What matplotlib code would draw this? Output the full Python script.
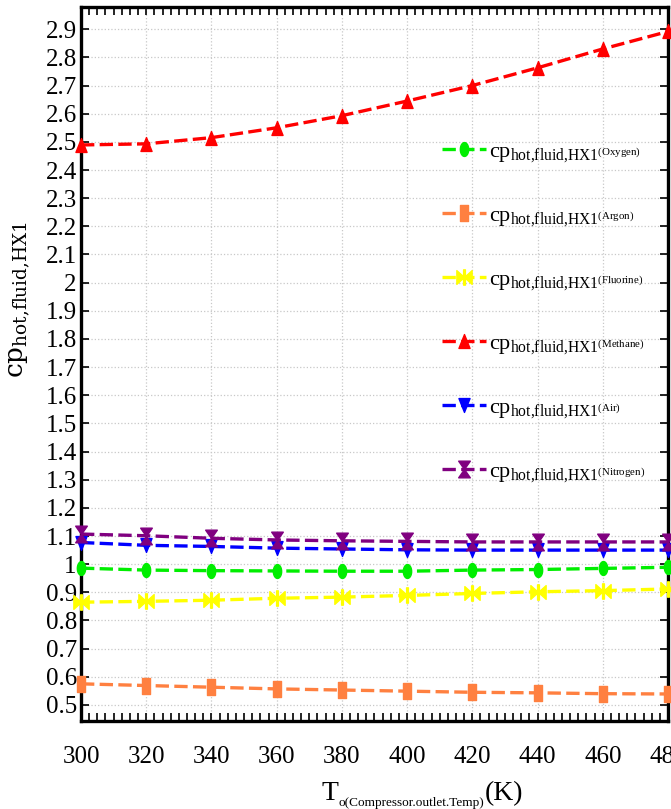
import numpy as np
import matplotlib
matplotlib.use('Agg')
import matplotlib.pyplot as plt
from matplotlib.path import Path
from matplotlib.ticker import MultipleLocator

plt.rcParams['font.family'] = ['Liberation Serif', 'DejaVu Serif']
plt.rcParams['mathtext.fontset'] = 'custom'
plt.rcParams['mathtext.rm'] = 'Liberation Serif'
plt.rcParams['mathtext.it'] = 'Liberation Serif:italic'

# data
T = [300, 320, 340, 360, 380, 400, 420, 440, 460, 480]
oxygen = [0.986, 0.979, 0.977, 0.976, 0.975, 0.975, 0.979, 0.981, 0.985, 0.989]
argon = [0.575, 0.569, 0.563, 0.557, 0.553, 0.549, 0.545, 0.543, 0.540, 0.539]
fluorine = [0.865, 0.868, 0.872, 0.879, 0.883, 0.889, 0.896, 0.902, 0.906, 0.912]
methane = [2.489, 2.493, 2.515, 2.550, 2.593, 2.645, 2.700, 2.763, 2.830, 2.892]
air = [1.077, 1.067, 1.063, 1.057, 1.054, 1.051, 1.050, 1.050, 1.050, 1.050]
nitrogen = [1.107, 1.101, 1.092, 1.086, 1.083, 1.081, 1.079, 1.079, 1.079, 1.079]

gases = ['Oxygen', 'Argon', 'Fluorine', 'Methane', 'Air', 'Nitrogen']
series = [oxygen, argon, fluorine, methane, air, nitrogen]
colors = ['#00ee00', '#ff8040', '#ffff00', '#ff0000', '#0000ff', '#800080']

# tall markers (reference image is stretched vertically)
t = np.linspace(0, 2 * np.pi, 40)
ellipse = Path(np.column_stack([0.6 * np.cos(t), np.sin(t)]))
rect = Path([(-0.5, -1), (0.5, -1), (0.5, 1), (-0.5, 1), (-0.5, -1)],
            [Path.MOVETO, Path.LINETO, Path.LINETO, Path.LINETO, Path.CLOSEPOLY])
bowtie = Path([(-1, -0.9), (-1, 0.9), (0, 0), (-1, -0.9),
               (1, -0.9), (1, 0.9), (0, 0), (1, -0.9),
               (-0.12, -1), (0.12, -1), (0.12, 1), (-0.12, 1), (-0.12, -1)],
              [Path.MOVETO, Path.LINETO, Path.LINETO, Path.CLOSEPOLY] * 2 +
              [Path.MOVETO, Path.LINETO, Path.LINETO, Path.LINETO, Path.CLOSEPOLY])
up = Path([(-0.8, -1), (0.8, -1), (0, 1), (-0.8, -1)],
          [Path.MOVETO, Path.LINETO, Path.LINETO, Path.CLOSEPOLY])
down = Path([(-0.8, 1), (0.8, 1), (0, -1), (-0.8, 1)],
            [Path.MOVETO, Path.LINETO, Path.LINETO, Path.CLOSEPOLY])
hourglass = Path([(-0.7, 1), (0.7, 1), (0, 0), (-0.7, 1),
                  (-0.7, -1), (0.7, -1), (0, 0), (-0.7, -1)],
                 [Path.MOVETO, Path.LINETO, Path.LINETO, Path.CLOSEPOLY] * 2)
markers = [ellipse, rect, bowtie, up, down, hourglass]
msizes = [10, 12, 11, 10, 10, 12]

W, H = 671, 809
fig = plt.figure(figsize=(W / 100, H / 100), dpi=100)
ax = fig.add_axes([81 / W, 88 / H, 587 / W, 714 / H])

for g, y, c, m, ms in zip(gases, series, colors, markers, msizes):
    lab = r'$\mathrm{cp}_{\mathrm{hot{,}fluid{,}HX1}{}^{(\mathrm{' + g + '})}}$'
    ax.plot(T, y, color=c, lw=2.4, dashes=(4, 1.6), marker=m, ms=ms,
            mec=c, mfc=c, label=lab, clip_on=False, zorder=3)

ax.set_xlim(300, 480)
ax.set_ylim(0.443, 2.979)
ax.set_xticks(T)
ax.xaxis.set_minor_locator(MultipleLocator(2.5))
yt = np.round(np.arange(0.5, 2.95, 0.1), 1)
ax.set_yticks(yt)
ax.set_yticklabels(['%g' % v for v in yt])
ax.tick_params(which='both', direction='in', top=True, right=True, width=1.2)
ax.tick_params(which='major', length=6)
ax.tick_params(which='minor', length=6)
ax.tick_params(axis='y', labelsize=18, pad=3)
ax.tick_params(axis='x', labelsize=18, pad=18)
ax.grid(True, which='major', color='#c8c8c8', linestyle=':', linewidth=0.9)
for s in ax.spines.values():
    s.set_linewidth(2.4)

# x label built from three texts: big T, small subscript, big (K)
renderer = fig.canvas.get_renderer()
base = 1 - 800 / H
t1 = fig.text(322 / W, base, 'T', fontsize=20, va='baseline')
x1 = t1.get_window_extent(renderer).x1
t2 = fig.text(x1 / W, base - 6 / H, 'o(Compressor.outlet.Temp)', fontsize=9.5,
              va='baseline')
x2 = t2.get_window_extent(renderer).x1
fig.text(x2 / W, base, '(K)', fontsize=20, va='baseline')

ax.set_ylabel(r'$\mathrm{cp}_{\mathrm{hot{,}fluid{,}HX1}}$', fontsize=19,
              math_fontfamily='dejavuserif')
ax.yaxis.set_label_coords(-0.083, 0.59)

ax.legend(loc='upper left', bbox_to_anchor=(0.615, 0.812), frameon=False,
          fontsize=16, handlelength=2.0, handletextpad=0.1, labelspacing=1.85,
          borderpad=0, borderaxespad=0)

fig.savefig('out.png', dpi=100)
